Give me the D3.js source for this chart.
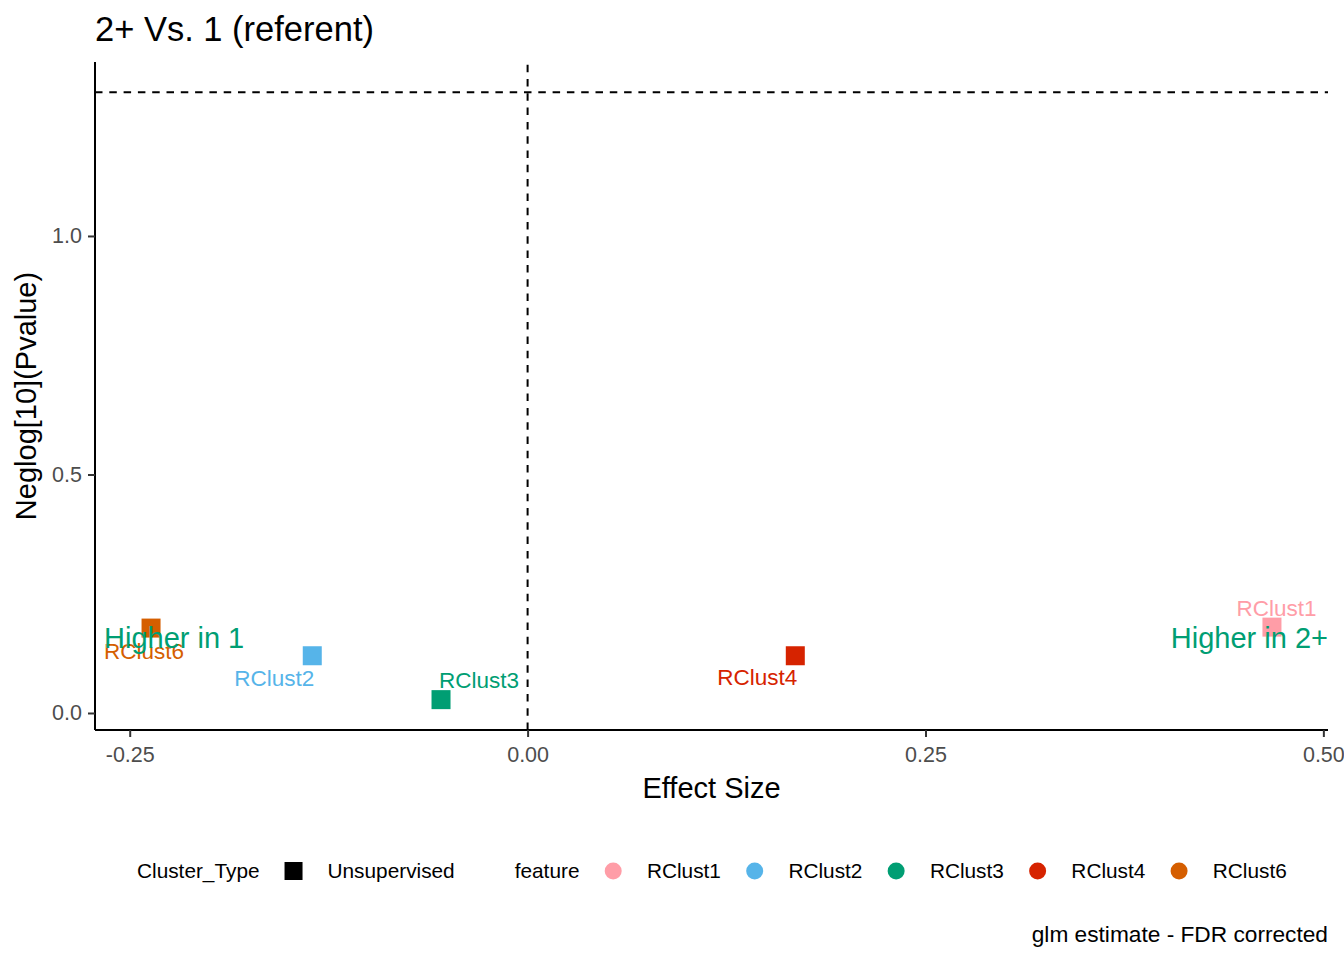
<!DOCTYPE html>
<html>
<head>
<meta charset="utf-8">
<script src="https://cdn.jsdelivr.net/npm/d3@7"></script>
<style>
  html, body { margin: 0; padding: 0; background: #fff; }
  svg text { font-family: "Liberation Sans", Arial, sans-serif; }
</style>
</head>
<body>
<div id="chart"></div>
<script>
// data
var features = ["RClust1", "RClust2", "RClust3", "RClust4", "RClust6"];
var effectSize = [0.4677, -0.1353, -0.0544, 0.1682, -0.2366];
var negLogP = [0.180, 0.120, 0.028, 0.120, 0.178];
var featureColors = ["#FF9DA7", "#56B4E9", "#009E73", "#D62300", "#D55E00"];
var xTicks = [-0.25, 0, 0.25, 0.5];
var yTicks = [0, 0.5, 1.0];
var threshold = -Math.log10(0.05);
var clusterTypes = ["Unsupervised"];

// label offsets from each point (px), as ggrepel placed them
var labelNudge = [[4.5, -11], [-38, 30.5], [38, -11.5], [-38, 29.5], [-7, 30.5]];

var W = 1344, H = 960;
var margin = { top: 62, right: 16, bottom: 230, left: 95 };
var font = '"Liberation Sans", Arial, sans-serif';

var svg = d3.select("#chart").append("svg")
    .attr("width", W)
    .attr("height", H);

var pts = features.map(function (f, i) {
    return { name: f, x: effectSize[i], y: negLogP[i], color: featureColors[i], nudge: labelNudge[i] };
});

// ggplot-style 5% expansion
var expand = function (ext) {
    var d = ext[1] - ext[0];
    return [ext[0] - 0.05 * d, ext[1] + 0.05 * d];
};

var x = d3.scaleLinear()
    .domain(expand(d3.extent(effectSize)))
    .range([margin.left, W - margin.right]);

var y = d3.scaleLinear()
    .domain(expand([d3.min(negLogP), threshold]))
    .range([H - margin.bottom, margin.top]);

// title
svg.append("text")
    .attr("x", margin.left)
    .attr("y", 41)
    .style("font-size", "34.5px")
    .style("fill", "#000")
    .text("2+ Vs. 1 (referent)");

// reference lines
svg.append("line")
    .attr("x1", x.range()[0]).attr("x2", x.range()[1])
    .attr("y1", y(threshold)).attr("y2", y(threshold))
    .attr("stroke", "#000").attr("stroke-width", 2)
    .attr("stroke-dasharray", "7.5,6.8");

svg.append("line")
    .attr("x1", x(0)).attr("x2", x(0))
    .attr("y1", y.range()[0]).attr("y2", y.range()[1])
    .attr("stroke", "#000").attr("stroke-width", 2)
    .attr("stroke-dasharray", "7.5,6.8");

// axes
var xAxis = svg.append("g")
    .attr("transform", "translate(0," + y.range()[0] + ")")
    .call(d3.axisBottom(x).tickValues(xTicks).tickSize(7).tickPadding(10)
        .tickFormat(function (d) { return d3.format(".2f")(d).replace("−", "-"); }));

var yAxis = svg.append("g")
    .attr("transform", "translate(" + x.range()[0] + ",0)")
    .call(d3.axisLeft(y).tickValues(yTicks).tickSize(7).tickPadding(6)
        .tickFormat(d3.format(".1f")));

[xAxis, yAxis].forEach(function (g) {
    g.select(".domain").attr("stroke", "#000").attr("stroke-width", 2);
    g.selectAll(".tick line").attr("stroke", "#333").attr("stroke-width", 2);
    g.selectAll(".tick text")
        .style("font-family", font)
        .style("font-size", "21.5px")
        .style("fill", "#4D4D4D");
});

// plain axis lines like theme_classic (no outer ticks)
xAxis.select(".domain").attr("d", "M" + x.range()[0] + ",0H" + x.range()[1]);
yAxis.select(".domain").attr("d", "M0," + y.range()[0] + "V" + y.range()[1]);

// axis titles
svg.append("text")
    .attr("x", (x.range()[0] + x.range()[1]) / 2)
    .attr("y", 798)
    .attr("text-anchor", "middle")
    .style("font-size", "29px")
    .text("Effect Size");

svg.append("text")
    .attr("transform", "translate(36," + (y.range()[0] + y.range()[1]) / 2 + ") rotate(-90)")
    .attr("text-anchor", "middle")
    .style("font-size", "29px")
    .text("Neglog[10](Pvalue)");

// points
var sq = 19;
svg.append("g").selectAll("rect")
    .data(pts)
    .enter()
    .append("rect")
    .attr("x", function (d) { return x(d.x) - sq / 2; })
    .attr("y", function (d) { return y(d.y) - sq / 2; })
    .attr("width", sq)
    .attr("height", sq)
    .style("fill", function (d) { return d.color; });

// point labels
svg.append("g").selectAll("text")
    .data(pts)
    .enter()
    .append("text")
    .attr("x", function (d) { return x(d.x) + d.nudge[0]; })
    .attr("y", function (d) { return y(d.y) + d.nudge[1]; })
    .attr("text-anchor", "middle")
    .style("font-size", "22.5px")
    .style("fill", function (d) { return d.color; })
    .text(function (d) { return d.name; });

// direction annotations
var annoY = 0.157;
svg.append("text")
    .attr("x", x.range()[0] + 9)
    .attr("y", y(annoY))
    .attr("dy", "0.35em")
    .style("font-size", "29px")
    .style("fill", "#009E73")
    .text("Higher in 1");

svg.append("text")
    .attr("x", x.range()[1])
    .attr("y", y(annoY))
    .attr("dy", "0.35em")
    .attr("text-anchor", "end")
    .style("font-size", "29px")
    .style("fill", "#009E73")
    .text("Higher in 2+");

// legend
var legY = 871;
var legend = svg.append("g").style("font-size", "20.8px");
var cx = 137;

var addText = function (t) {
    var el = legend.append("text").attr("x", cx).attr("y", legY).attr("dy", "0.35em").text(t);
    cx += el.node().getComputedTextLength();
    return el;
};

addText("Cluster_Type");
cx += 25;
clusterTypes.forEach(function (c) {
    legend.append("rect").attr("x", cx).attr("y", legY - 9).attr("width", 18).attr("height", 18).style("fill", "#000");
    cx += 43;
    addText(c);
});
cx += 60;
addText("feature");
features.forEach(function (f, i) {
    cx += 33.75;
    legend.append("circle").attr("cx", cx).attr("cy", legY).attr("r", 8.5).style("fill", featureColors[i]);
    cx += 33.75;
    addText(f);
});

// caption
svg.append("text")
    .attr("x", x.range()[1])
    .attr("y", 942)
    .attr("text-anchor", "end")
    .style("font-size", "22.7px")
    .text("glm estimate - FDR corrected");
</script>
</body>
</html>
